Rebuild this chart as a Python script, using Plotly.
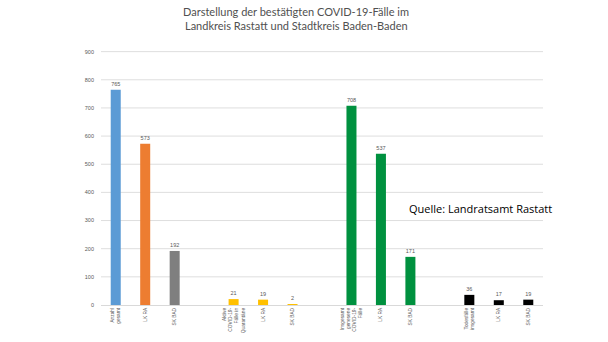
import plotly.graph_objects as go

# Category slots along the x axis; empty strings are spacer slots between groups
labels = [
    "Anzahl<br>gesamt", "LK RA", "SK BAD", "",
    "Aktive<br>COVID-19-<br>Fälle in<br>Quarantäne", "LK RA", "SK BAD", "",
    "Insgesamt<br>genesene<br>COVID-19-<br>Fälle", "LK RA", "SK BAD", "",
    "Todesfälle<br>insgesamt", "LK RA", "SK BAD",
]
values = [765, 573, 192, None, 21, 19, 2, None, 708, 537, 171, None, 36, 17, 19]
colors = [
    "#5B9BD5", "#ED7D31", "#7F7F7F", "#FFFFFF",
    "#FFC000", "#FFC000", "#FFC000", "#FFFFFF",
    "#00913F", "#00913F", "#00913F", "#FFFFFF",
    "#000000", "#000000", "#000000",
]
y_ticks = [0, 100, 200, 300, 400, 500, 600, 700, 800, 900]
title_lines = [
    "Darstellung der bestätigten COVID-19-Fälle im",
    "Landkreis Rastatt und Stadtkreis Baden-Baden",
]
source_note = "Quelle: Landratsamt Rastatt"

W, H = 608, 342
ML, MR, MT, MB = 101, 65, 46, 37
PW, PH = W - ML - MR, H - MT - MB


def px_to_paper(px, py):
    """Convert page pixels to plot-area paper coordinates."""
    return (px - ML) / PW, 1 - (py - MT) / PH


positions = list(range(len(labels)))
bar_x = [p for p, v in zip(positions, values) if v is not None]
bar_y = [v for v in values if v is not None]
bar_c = [c for c, v in zip(colors, values) if v is not None]

fig = go.Figure(
    go.Bar(
        x=bar_x,
        y=bar_y,
        width=0.34,
        marker=dict(color=bar_c, line=dict(width=0)),
        text=[str(v) for v in bar_y],
        textposition="outside",
        textfont=dict(size=5.5, color="#595959", family="Liberation Sans"),
        cliponaxis=False,
        hoverinfo="skip",
    )
)

annotations = []
# Two-line chart heading
for i, line in enumerate(title_lines):
    ax, ay = px_to_paper(296, 11 + 15 * i)
    annotations.append(dict(
        text=line, x=ax, y=ay,
        xref="paper", yref="paper",
        xanchor="center", yanchor="middle",
        showarrow=False,
        font=dict(family="Lato", size=11, color="#505050"),
    ))
# Source note inside the plot area
ax, ay = px_to_paper(407, 208)
annotations.append(dict(
    text=source_note, x=ax, y=ay,
    xref="paper", yref="paper",
    xanchor="left", yanchor="middle",
    showarrow=False,
    font=dict(family="Open Sans", size=11, color="#000000"),
))

# Light horizontal gridlines behind the bars, one per y tick
grid_shapes = [
    dict(type="line", xref="paper", x0=0, x1=1, yref="y", y0=t, y1=t,
         line=dict(color="#DEDEDE", width=1), layer="below")
    for t in y_ticks[1:]
]

fig.update_layout(
    width=W,
    height=H,
    margin=dict(l=ML, r=MR, t=MT, b=MB, autoexpand=False),
    paper_bgcolor="white",
    plot_bgcolor="white",
    showlegend=False,
    font=dict(family="Liberation Sans", color="#595959"),
    annotations=annotations,
    shapes=grid_shapes,
)

fig.update_xaxes(
    range=[-0.5, len(labels) - 0.5],
    tickmode="array",
    tickvals=positions,
    ticktext=labels,
    tickangle=-90,
    tickfont=dict(size=4.8, color="#595959", family="Liberation Sans"),
    automargin=False,
    showgrid=False,
    showline=True,
    linecolor="#D9D9D9",
    linewidth=1,
    ticks="",
    zeroline=False,
)
fig.update_yaxes(
    range=[0, 920],
    tickmode="array",
    tickvals=y_ticks,
    automargin=False,
    showgrid=False,
    zeroline=False,
    showline=False,
    ticks="",
    ticklabelstandoff=6,
    tickfont=dict(size=5.5, color="#595959", family="Liberation Sans"),
)

fig.write_html("out.html")
